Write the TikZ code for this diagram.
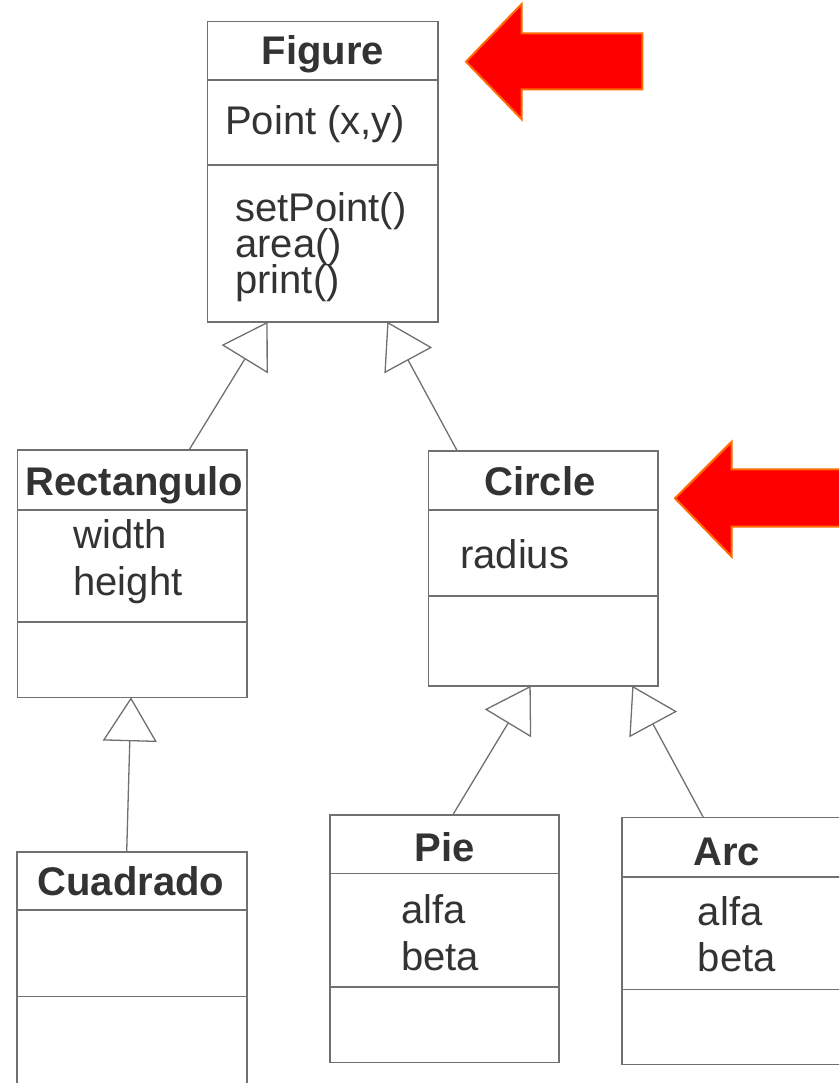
\documentclass[tikz,border=0pt]{standalone}
\usepackage{fontspec}
\setmainfont{Liberation Sans}
\usetikzlibrary{arrows.meta}
\definecolor{linegray}{HTML}{707070}
\definecolor{txtgray}{HTML}{333333}
\definecolor{arrowedge}{HTML}{FF6A00}
\tikzset{
  comp/.style={draw=linegray, line width=1.6pt, rectangle, inner sep=0pt, outer sep=0pt, anchor=north west, fill=white},
  ttl/.style={anchor=base, inner sep=0pt, text=txtgray, font=\fontsize{40}{40}\selectfont\bfseries},
  attr/.style={anchor=base west, inner sep=0pt, text=txtgray, font=\fontsize{40}{40}\selectfont},
  inh/.style={draw=linegray, line width=1.3pt, -{Triangle[open, length=44pt, width=54pt]}},
  bigarrow/.style={fill=red, draw=arrowedge, line width=2pt, line join=miter}
}
\begin{document}
\begin{tikzpicture}[x=1pt, y=-1pt]
\clip (0,0) rectangle (839,1083);
\fill[white] (0,0) rectangle (839,1083);

% Figure
\node[comp, minimum width=230.7pt, minimum height=58.3pt] (figT) at (207.3,21.7) {};
\node[comp, minimum width=230.7pt, minimum height=85pt] (figA) at (207.3,80) {};
\node[comp, minimum width=230.7pt, minimum height=156.7pt] (figM) at (207.3,165) {};
\node[ttl] (figN) at (322.7,65) {Figure};
\node[attr] (figA1) at (225,135) {Point (x,y)};
\node[attr] (figM1) at (235,221.7) {setPoint()};
\node[attr] (figM2) at (235,257.5) {area()};
\node[attr] (figM3) at (235,293) {print()};

% Rectangulo
\node[comp, minimum width=229.4pt, minimum height=60pt] (recT) at (17.3,450) {};
\node[comp, minimum width=229.4pt, minimum height=111.7pt] (recA) at (17.3,510) {};
\node[comp, minimum width=229.4pt, minimum height=75.6pt] (recM) at (17.3,621.7) {};
\node[ttl] (recN) at (134.5,495) {Rectangulo};
\node[attr] (recA1) at (73.3,548.3) {width};
\node[attr] (recA2) at (73.3,595.5) {height};

% Circle
\node[comp, minimum width=229.4pt, minimum height=59pt] (cirT) at (428.3,451) {};
\node[comp, minimum width=229.4pt, minimum height=85.7pt] (cirA) at (428.3,510) {};
\node[comp, minimum width=229.4pt, minimum height=90pt] (cirM) at (428.3,595.7) {};
\node[ttl] (cirN) at (540,495) {Circle};
\node[attr] (cirA1) at (460,568.3) {radius};

% Cuadrado
\node[comp, minimum width=230pt, minimum height=58.3pt] (cuaT) at (16.7,851.7) {};
\node[comp, minimum width=230pt, minimum height=86.3pt] (cuaA) at (16.7,910) {};
\node[comp, minimum width=230pt, minimum height=110pt] (cuaM) at (16.7,996.3) {};
\node[ttl] (cuaN) at (131,895) {Cuadrado};

% Pie
\node[comp, minimum width=229pt, minimum height=58.3pt] (pieT) at (330,815) {};
\node[comp, minimum width=229pt, minimum height=113.4pt] (pieA) at (330,873.3) {};
\node[comp, minimum width=229pt, minimum height=75.6pt] (pieM) at (330,986.7) {};
\node[ttl] (pieN) at (445,861.7) {Pie};
\node[attr] (pieA1) at (401,923.3) {alfa};
\node[attr] (pieA2) at (401,970) {beta};

% Arc
\node[comp, minimum width=229pt, minimum height=59.4pt] (arcT) at (621.7,817.3) {};
\node[comp, minimum width=229pt, minimum height=112.6pt] (arcA) at (621.7,876.7) {};
\node[comp, minimum width=229pt, minimum height=75pt] (arcM) at (621.7,989.3) {};
\node[ttl] (arcN) at (726.7,865) {Arc};
\node[attr] (arcA1) at (697.7,925.7) {alfa};
\node[attr] (arcA2) at (697.7,971.7) {beta};

% Inheritance connectors
\draw[inh] ([xshift=171.7pt]recT.north west) -- ([xshift=60.4pt]figM.south west);
\draw[inh] ([xshift=29pt]cirT.north west) -- ([xshift=180pt]figM.south west);
\draw[inh] ([xshift=110pt]cuaT.north west) -- ([xshift=113.7pt]recM.south west);
\draw[inh] ([xshift=122.7pt]pieT.north west) -- ([xshift=102.4pt]cirM.south west);
\draw[inh] ([xshift=81.6pt]arcT.north west) -- ([xshift=204pt]cirM.south west);

% Red arrows
\draw[bigarrow] (466,61.7) -- (521.7,4) -- (521.7,33.3) -- (642.3,33.3) -- (642.3,89.3) -- (521.7,89.3) -- (521.7,119.3) -- cycle;
\draw[bigarrow] (675,498.3) -- (731.7,441.7) -- (731.7,469.3) -- (870,469.3) -- (870,526.7) -- (731.7,526.7) -- (731.7,556.7) -- cycle;
\end{tikzpicture}
\end{document}
